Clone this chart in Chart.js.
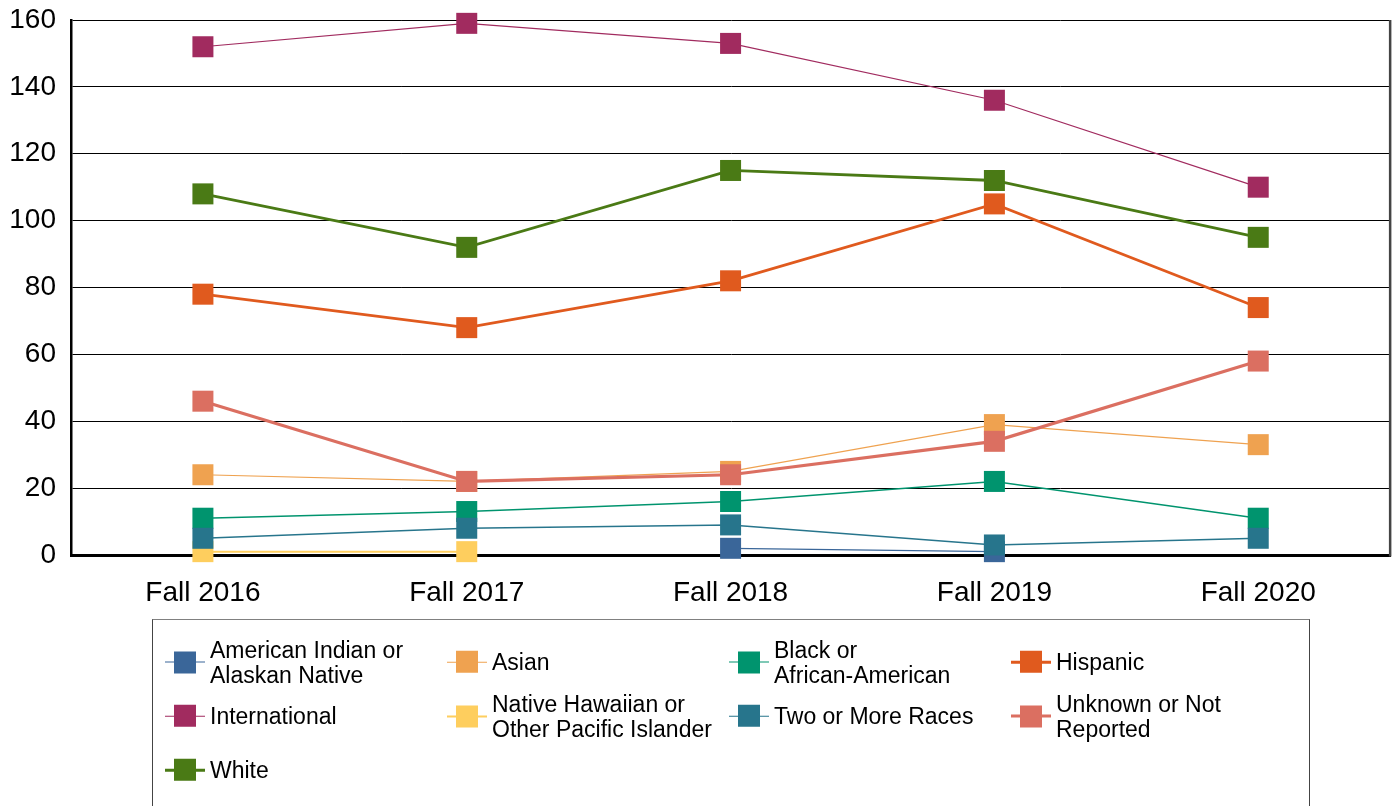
<!DOCTYPE html>
<html><head><meta charset="utf-8">
<script src="https://cdn.jsdelivr.net/npm/chart.js@4"></script>
<style>
html,body{margin:0;padding:0;background:#fff;overflow:hidden;}
#wrap{position:relative;width:1395px;height:806px;overflow:hidden;}
#c{position:absolute;left:0;top:0;}
#legend{position:absolute;left:152px;top:619px;width:1158px;height:220px;border:1px solid #444;border-top-color:#808080;box-sizing:border-box;font-family:"Liberation Sans",Arial,sans-serif;font-size:23px;color:#000;}
.item{position:absolute;display:flex;align-items:center;transform:translateY(-50%);}
.sym{position:relative;width:40px;height:22px;margin-right:5px;flex:none;}
.sym .ln{position:absolute;left:0;width:40px;}
.sym .sq{position:absolute;left:9px;top:0;width:22px;height:22px;}
.lbl{line-height:24.5px;white-space:nowrap;}
</style>
</head><body>
<div id="wrap">
<canvas id="c" width="1405" height="806"></canvas>
<div id="legend"></div>
</div>
<script>
const categories = ['Fall 2016','Fall 2017','Fall 2018','Fall 2019','Fall 2020'];
const seriesNames = ['American Indian or\nAlaskan Native','Asian','Black or\nAfrican-American','Hispanic','International','Native Hawaiian or\nOther Pacific Islander','Two or More Races','Unknown or Not\nReported','White'];
const americanIndian = [null, null, 2, 1, null];
const asian = [24, 22, 25, 39, 33];
const black = [11, 13, 16, 22, 11];
const hispanic = [78, 68, 82, 105, 74];
const international = [152, 159, 153, 136, 110];
const nativeHawaiian = [1, 1, null, null, null];
const twoOrMore = [5, 8, 9, 3, 5];
const unknown = [46, 22, 24, 34, 58];
const white = [108, 92, 115, 112, 95];
const yTicks = [0, 20, 40, 60, 80, 100, 120, 140, 160];

const seriesValues = [americanIndian, asian, black, hispanic, international, nativeHawaiian, twoOrMore, unknown, white];
const colors = ['#3A6699','#EFA250','#00946E','#E05A1E','#A12B5F','#FECE5E','#27758C','#DB6F61','#4A7A15'];
const widths = [1.2, 1.2, 1.5, 2.8, 1.2, 2, 1.5, 3.2, 2.8];

const n = seriesValues.length;
const datasets = seriesValues.map((vals, i) => ({
  label: seriesNames[i].replace('\n', ' '),
  data: vals,
  borderColor: colors[i],
  backgroundColor: colors[i],
  borderWidth: widths[i],
  pointStyle: 'rect',
  pointRadius: 14.85,
  pointHoverRadius: 14.85,
  pointBorderWidth: 0,
  pointBackgroundColor: colors[i],
  tension: 0,
  clip: false,
  order: n - 1 - i
}));

const frame = {
  id: 'frame',
  afterDatasetsDraw(chart) {
    const {ctx, chartArea: a} = chart;
    ctx.save();
    ctx.strokeStyle = '#444';
    ctx.lineWidth = 2.5;
    ctx.beginPath();
    ctx.moveTo(a.right, a.top);
    ctx.lineTo(a.right, a.bottom + 1.5);
    ctx.stroke();
    ctx.restore();
  }
};

new Chart(document.getElementById('c'), {
  type: 'line',
  data: { labels: categories, datasets },
  options: {
    responsive: false,
    animation: false,
    devicePixelRatio: 1,
    layout: { padding: { top: 20, right: 5, left: 0, bottom: 0 } },
    plugins: { legend: { display: false }, tooltip: { enabled: false } },
    scales: {
      x: {
        offset: true,
        z: 1,
        grid: { display: false },
        border: { display: true, color: '#000', width: 3 },
        ticks: { color: '#000', font: { family: 'Liberation Sans', size: 28 }, padding: 13, maxRotation: 0 },
        afterFit(s) { s.height = 251; s.paddingLeft = 0; s.paddingRight = 0; }
      },
      y: {
        min: 0, max: 160,
        afterBuildTicks(s) { s.ticks = yTicks.map(v => ({ value: v })); },
        grid: { color: '#000', lineWidth: 1, drawTicks: false },
        border: { display: true, color: '#000', width: 2.5 },
        ticks: { color: '#000', font: { family: 'Liberation Sans', size: 28 }, padding: 15 },
        afterFit(s) { s.width = 71; s.paddingTop = 0; s.paddingBottom = 0; }
      }
    }
  },
  plugins: [frame]
});

// HTML legend
const legend = document.getElementById('legend');
const colX = [12, 294, 576, 858];
const rowY = [42, 96, 150];
seriesNames.forEach((name, i) => {
  const col = i % 4, row = Math.floor(i / 4);
  const it = document.createElement('div');
  it.className = 'item';
  it.style.left = colX[col] + 'px';
  it.style.top = rowY[row] + 'px';
  const sym = document.createElement('div');
  sym.className = 'sym';
  const ln = document.createElement('div');
  ln.className = 'ln';
  ln.style.height = widths[i] + 'px';
  ln.style.top = (11 - widths[i] / 2) + 'px';
  ln.style.background = colors[i];
  const sq = document.createElement('div');
  sq.className = 'sq';
  sq.style.background = colors[i];
  sym.appendChild(ln); sym.appendChild(sq);
  const lbl = document.createElement('div');
  lbl.className = 'lbl';
  name.split('\n').forEach((t, k) => {
    if (k) lbl.appendChild(document.createElement('br'));
    lbl.appendChild(document.createTextNode(t));
  });
  it.appendChild(sym); it.appendChild(lbl);
  legend.appendChild(it);
});
</script>
</body></html>
